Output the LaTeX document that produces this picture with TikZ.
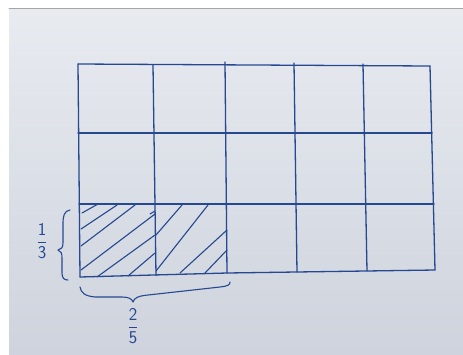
\documentclass[tikz,border=0pt]{standalone}
\usepackage{fontspec}
\setmainfont{Liberation Sans}
\begin{document}
\begin{tikzpicture}[x=1pt,y=-1pt,line cap=round,line join=round,
  ink/.style={draw=inkblue,line width=1.3pt},
  hatch/.style={draw=inkblue,line width=1.1pt},
  frac/.style={text=inkblue,font=\fontsize{18}{21}\selectfont,inner sep=0pt}]
\definecolor{inkblue}{RGB}{38,72,145}
\definecolor{paperA}{RGB}{232,235,240}
\definecolor{paperB}{RGB}{206,211,221}
\useasboundingbox (0,0) rectangle (463,354);
\fill[white] (0,0) rectangle (463,354);
\shade[top color=paperA,bottom color=paperB] (9,8) rectangle (463,354);
\draw[gray!70,line width=0.8pt] (9,8.4) -- (463,8.4);
% grid coordinates
\coordinate (t0) at (78,64);  \coordinate (b0) at (80,277);
\coordinate (t1) at (153,65); \coordinate (b1) at (156,275.5);
\coordinate (t2) at (225,62); \coordinate (b2) at (227,273);
\coordinate (t3) at (294,63); \coordinate (b3) at (297,272);
\coordinate (t4) at (363,64); \coordinate (b4) at (367,271);
\coordinate (t5) at (430,66); \coordinate (b5) at (435,270);
\coordinate (l1) at (78,133); \coordinate (r1) at (432,133);
\coordinate (l2) at (79,204); \coordinate (r2) at (434,204);
% verticals
\foreach \i in {0,...,5} \draw[ink] (t\i) -- (b\i);
% horizontals
\draw[ink] (t0) -- (t5);
\draw[ink] (l1) -- (r1);
\draw[ink] (l2) -- (r2);
\draw[ink] (b0) -- (b2) -- (b5);
% hatching, left cell
\draw[hatch] (82,213) -- (98,204);
\draw[hatch] (81,229) -- (117,205);
\draw[hatch] (81,246) -- (135,205);
\draw[hatch] (81,270) -- (155,214);
\draw[hatch] (97,277) -- (155,235);
\draw[hatch] (128,276) -- (155,253);
% hatching, right cell
\draw[hatch] (150,214) -- (155,211);
\draw[hatch] (156,235) -- (182,205);
\draw[hatch] (156,271) -- (208,205);
\draw[hatch] (180,273) -- (227,230);
\draw[hatch] (205,273) -- (227,250);
% left brace
\draw[ink,line width=1.1pt] (70,210) .. controls (64,211) and (63,216) .. (63,224)
  -- (63,243) .. controls (63,248) and (61,249) .. (58,250)
  .. controls (61,251) and (62,253) .. (62,258)
  -- (62,273) .. controls (62,278) and (64,280) .. (68,280);
% bottom brace
\draw[ink,line width=1.1pt] (80,287) .. controls (81,293) and (85,296) .. (95,297)
  -- (122,297) .. controls (129,297) and (132,299) .. (133,302)
  .. controls (134,298) and (138,296) .. (148,295)
  -- (220,287) .. controls (228,286) and (230,285) .. (230,282);
% fractions
\node[frac] (f13) at (42,241) {$\displaystyle\frac{\mathsf{1}}{\mathsf{3}}$};
\node[frac] (f25) at (133,326) {$\displaystyle\frac{\mathsf{2}}{\mathsf{5}}$};
\end{tikzpicture}
\end{document}
